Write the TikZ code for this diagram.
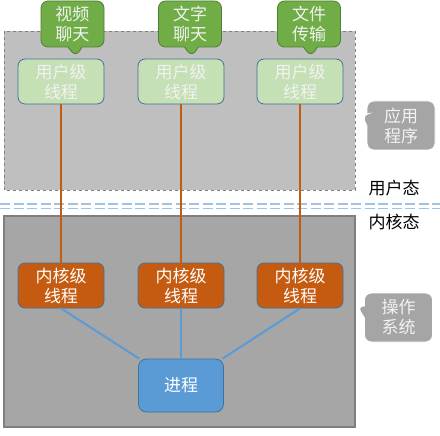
\documentclass[tikz,border=0pt]{standalone}
\usepackage{fontspec}
\setmainfont{Noto Sans CJK SC}
\usetikzlibrary{shapes.callouts}
\definecolor{topfill}{HTML}{BFBFBF}
\definecolor{botfill}{HTML}{A6A6A6}
\definecolor{boxline}{HTML}{7F7F7F}
\definecolor{ugreen}{HTML}{C5E0B4}
\definecolor{bordblue}{HTML}{41719C}
\definecolor{korange}{HTML}{C55A11}
\definecolor{pblue}{HTML}{5B9BD5}
\definecolor{bgreen}{HTML}{70AD47}
\definecolor{bdgreen}{HTML}{507E32}
\definecolor{sgray}{HTML}{A5A5A5}
\definecolor{dline}{HTML}{9DC3E6}
\definecolor{lighttext}{HTML}{F2F2F2}
\begin{document}
\begin{tikzpicture}[x=1pt,y=-1pt,
 txt/.style={font=\fontsize{17}{20}\selectfont, align=center, inner sep=0pt},
 uthread/.style={txt, draw=bordblue, line width=0.8pt, fill=ugreen, text=lighttext, rounded corners=7pt, minimum width=86pt, minimum height=45pt},
 kthread/.style={txt, draw=bordblue, line width=0.8pt, fill=korange, text=white, rounded corners=7pt, minimum width=86pt, minimum height=45pt},
 procbox/.style={txt, draw=bordblue, line width=0.8pt, fill=pblue, text=white, rounded corners=8pt, minimum width=85pt, minimum height=53pt},
 bubble/.style={txt, rectangle callout, draw=bdgreen, line width=0.8pt, fill=bgreen, text=lighttext, rounded corners=7pt, minimum width=63pt, minimum height=46pt, callout pointer width=14pt},
 sidebox/.style={txt, rectangle callout, draw=white, line width=0.8pt, fill=sgray, text=lighttext, rounded corners=7pt, minimum width=68pt, minimum height=49pt, callout pointer width=12pt},
 orangeline/.style={draw=korange, line width=2pt},
 blueline/.style={draw=pblue, line width=2pt},
 modetxt/.style={font=\fontsize{17}{20}\selectfont, inner sep=0pt, text=black}
]
\useasboundingbox (0,0) rectangle (440,436);
% regions
\path[fill=topfill, draw=boxline, dashed, line width=0.8pt] (4,31) rectangle (355,190);
\path[fill=botfill, draw=boxline, line width=1.5pt] (4,216) rectangle (355,427);
% mode separator
\coordinate (sepL1) at (0,204);
\coordinate (sepR1) at (440,204);
\coordinate (sepL2) at (0,208.5);
\coordinate (sepR2) at (440,208.5);
\draw[dline, line width=1.8pt, dash pattern=on 10pt off 3.5pt] (sepL1) -- (sepR1);
\draw[dline, line width=1.8pt, dash pattern=on 10pt off 3.5pt] (sepL2) -- (sepR2);
\node[modetxt] (umode) at (394,188) {用户态};
\node[modetxt] (kmode) at (394,222) {内核态};
% user threads
\node[uthread] (u1) at (61,81.5) {用户级\\线程};
\node[uthread] (u2) at (181,81.5) {用户级\\线程};
\node[uthread] (u3) at (300,81.5) {用户级\\线程};
% bubbles
\node[bubble, callout absolute pointer={(76,57)}] (b1) at (72.5,24) {视频\\聊天};
\node[bubble, callout absolute pointer={(192,57)}] (b2) at (190,24) {文字\\聊天};
\node[bubble, callout absolute pointer={(311,57)}] (b3) at (309,24) {文件\\传输};
% kernel threads
\node[kthread] (k1) at (61,285.5) {内核级\\线程};
\node[kthread] (k2) at (181,285.5) {内核级\\线程};
\node[kthread] (k3) at (300,285.5) {内核级\\线程};
% process
\node[procbox] (proc) at (181,385.5) {进程};
% connectors
\draw[orangeline] (u1.south) -- (k1.north);
\draw[orangeline] (u2.south) -- (k2.north);
\draw[orangeline] (u3.south) -- (k3.north);
\draw[blueline] (k1.south) -- (proc);
\draw[blueline] (k2.south) -- (proc.north);
\draw[blueline] (k3.south) -- (proc);
% side labels
\node[sidebox, callout absolute pointer={(362,115)}] (app) at (401,125.5) {应用\\程序};
\node[sidebox, callout absolute pointer={(357,306)}] (os) at (398.5,317.5) {操作\\系统};
\end{tikzpicture}
\end{document}
